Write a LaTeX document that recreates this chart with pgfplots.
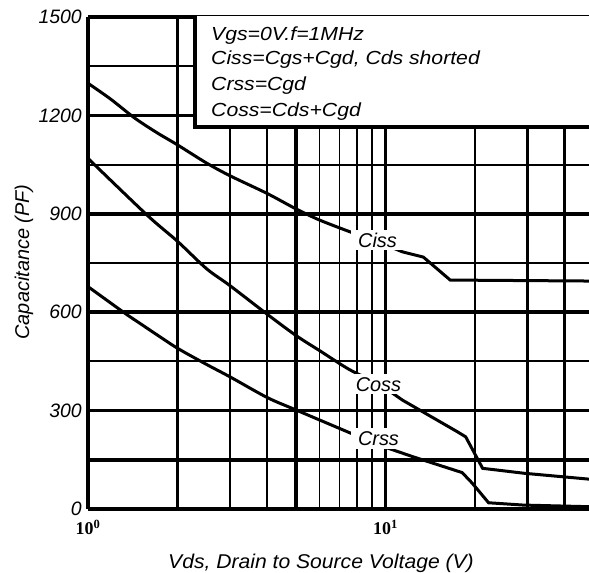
\documentclass[border=0pt]{standalone}
\usepackage{fontspec}
\setmainfont{Liberation Sans}
\newfontfamily\widefont[FakeStretch=1.12]{Liberation Sans}
\newfontfamily\serifnum{Liberation Serif}
\usepackage{pgfplots}
\pgfplotsset{compat=1.18}
\begin{document}
\begin{tikzpicture}
\begin{axis}[
  scale only axis, width=501bp, height=492bp,
  xmode=log, xmin=1, xmax=48.3, ymin=0, ymax=1500,
  axis x line*=box, axis y line*=left,
  axis line style={line width=4.5bp, -, black},
  xtick={1,10}, xticklabels={10\textsuperscript{0},10\textsuperscript{1}},
  minor xtick={}, 
  ytick={0,300,600,900,1200,1500},
  yticklabels={0,300,600,900,1200,1500},
  major tick length=0pt, minor tick length=0pt,
  yticklabel style={font=\fontsize{19.5}{22}\selectfont\itshape, inner sep=0pt, xshift=-6bp},
  xticklabel style={font=\fontsize{18}{21}\serifnum\bfseries\selectfont, inner sep=0pt, yshift=-11bp},
  clip=true,
]
% horizontal grid
\pgfplotsinvokeforeach{150,300,600,900,1200}{
  \draw[line width=3.5bp] (axis cs:1,#1) -- (axis cs:48.3,#1);
}
\pgfplotsinvokeforeach{450,750,1050,1350}{
  \draw[line width=2bp] (axis cs:1,#1) -- (axis cs:48.3,#1);
}
% vertical grid
\pgfplotsinvokeforeach{5,10}{
  \draw[line width=3.5bp] (axis cs:#1,0) -- (axis cs:#1,1500);
}
\pgfplotsinvokeforeach{2,3,20,30,40}{
  \draw[line width=2.6bp] (axis cs:#1,0) -- (axis cs:#1,1500);
}
\pgfplotsinvokeforeach{4,6,7,8,9}{
  \draw[line width=1.8bp] (axis cs:#1,0) -- (axis cs:#1,1500);
}
% info box
\draw[line width=4bp, fill=white] (axis cs:2.29,1166) rectangle (axis cs:80,1540);
% Ciss
\addplot[black, line width=3bp, smooth, tension=0.5] coordinates {
(1,1298) (1.19,1250) (1.44,1191) (1.7,1148) (2,1110) (2.5,1055) (3,1016) (4,962) (5,915) (6,881) (7.6,845) (9.4,815)
};
\addplot[black, line width=3bp] coordinates {
(9.4,815) (11.4,784) (13.4,768) (16.5,698) (48.3,695)
};
% Coss
\addplot[black, line width=3bp, smooth, tension=0.5] coordinates {
(1,1069) (1.58,896) (2,816) (2.5,733) (3,681) (4,594) (5,529) (6,483) (7.6,424) (9.47,383)
};
\addplot[black, line width=3bp] coordinates {
(9.47,383) (11.4,332) (17.4,236) (18.6,220) (21.2,124) (29.2,109) (48.3,91)
};
% Crss
\addplot[black, line width=3bp, smooth, tension=0.5] coordinates {
(1,678) (1.33,597) (1.5,565) (1.7,532) (2,490) (2.5,441) (3,403) (4,340) (5,302) (7.74,229) (9.5,195)
};
\addplot[black, line width=3bp] coordinates {
(9.5,195) (12.3,160) (18.1,111) (19.6,78) (22.2,19) (29,12) (48.3,7)
};
\node[fill=white, inner xsep=7bp, inner ysep=3bp, font=\fontsize{20}{24}\selectfont\itshape] at (axis cs:9.4,820) {Ciss};
\node[fill=white, inner xsep=7bp, inner ysep=3bp, font=\fontsize{20}{24}\selectfont\itshape] at (axis cs:9.47,380) {Coss};
\node[fill=white, inner xsep=7bp, inner ysep=3bp, font=\fontsize{20}{24}\selectfont\itshape] at (axis cs:9.47,215) {Crss};
\end{axis}
% info text
\begin{scope}[every node/.style={anchor=base west, inner sep=0pt, font=\fontsize{19}{22}\widefont\itshape}]
\node at (123bp,468bp) {Vgs=0V.f=1MHz};
\node at (123bp,444bp) {Ciss=Cgs+Cgd, Cds shorted};
\node at (123bp,418bp) {Crss=Cgd};
\node at (123bp,392bp) {Coss=Cds+Cgd};
\end{scope}
\node[font=\fontsize{20}{24}\selectfont\itshape, xscale=1.06] at (233bp,-54bp) {Vds, Drain to Source Voltage (V)};
\node[font=\fontsize{20}{24}\selectfont\itshape, rotate=90] at (-64bp,247bp) {Capacitance (PF)};
\pgfresetboundingbox
\path (-88bp,-64bp) rectangle (501bp,509bp);
\end{tikzpicture}
\end{document}
